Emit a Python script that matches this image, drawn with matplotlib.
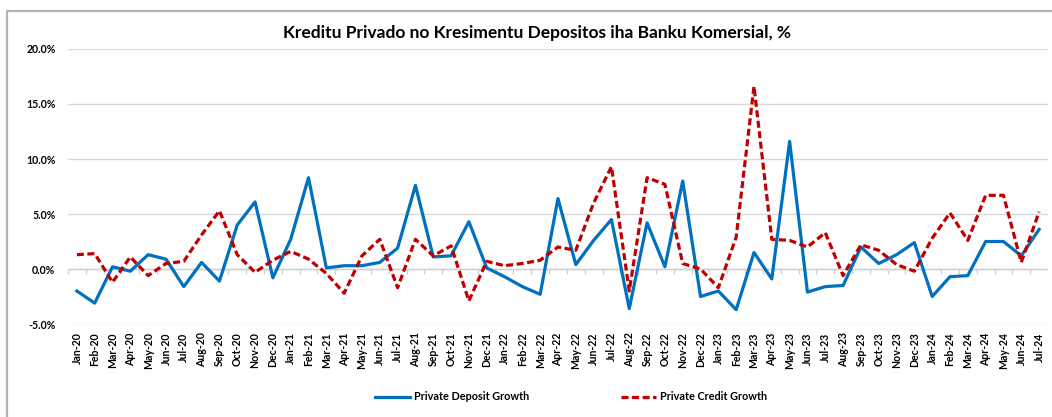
import matplotlib
matplotlib.use("Agg")
import matplotlib.pyplot as plt
import numpy as np
from matplotlib.patches import Rectangle
from matplotlib.ticker import FuncFormatter

months = ["Jan-20", "Feb-20", "Mar-20", "Apr-20", "May-20", "Jun-20", "Jul-20", "Aug-20", "Sep-20", "Oct-20", "Nov-20", "Dec-20",
          "Jan-21", "Feb-21", "Mar-21", "Apr-21", "May-21", "Jun-21", "Jul-21", "Aug-21", "Sep-21", "Oct-21", "Nov-21", "Dec-21",
          "Jan-22", "Feb-22", "Mar-22", "Apr-22", "May-22", "Jun-22", "Jul-22", "Aug-22", "Sep-22", "Oct-22", "Nov-22", "Dec-22",
          "Jan-23", "Feb-23", "Mar-23", "Apr-23", "May-23", "Jun-23", "Jul-23", "Aug-23", "Sep-23", "Oct-23", "Nov-23", "Dec-23",
          "Jan-24", "Feb-24", "Mar-24", "Apr-24", "May-24", "Jun-24", "Jul-24"]

deposit_growth = [-2.0, -3.1, 0.2, -0.2, 1.3, 0.9, -1.6, 0.6, -1.1, 4.0, 6.1, -0.8,
                  2.7, 8.3, 0.1, 0.3, 0.3, 0.6, 1.9, 7.6, 1.1, 1.2, 4.3, 0.1,
                  -0.7, -1.6, -2.3, 6.4, 0.4, 2.6, 4.5, -3.6, 4.2, 0.2, 8.0, -2.5,
                  -2.0, -3.7, 1.5, -0.9, 11.6, -2.1, -1.6, -1.5, 2.0, 0.5, 1.3, 2.4,
                  -2.5, -0.7, -0.6, 2.5, 2.5, 1.2, 3.6]

credit_growth = [1.3, 1.4, -1.2, 1.1, -0.6, 0.5, 0.7, 3.1, 5.3, 1.3, -0.3, 0.8,
                 1.6, 0.9, -0.4, -2.2, 1.2, 2.7, -1.7, 2.7, 1.2, 2.1, -2.9, 0.7,
                 0.3, 0.5, 0.8, 2.0, 1.7, 6.0, 9.3, -2.0, 8.3, 7.7, 0.5, 0.0,
                 -1.7, 2.9, 16.6, 2.7, 2.6, 2.0, 3.3, -0.6, 2.2, 1.7, 0.4, -0.2,
                 2.8, 5.1, 2.6, 6.7, 6.7, 0.6, 5.2]

font = "Lato"
x = np.arange(len(months))

fig = plt.figure(figsize=(10.52, 4.17), dpi=100)
ax = fig.add_axes([0.0646, 0.223, 0.9316, 0.6595])

# outer chart border
fig.patches.append(Rectangle((7 / 1052, -0.1), 1.2, 1 - 11 / 417 + 0.1, transform=fig.transFigure,
                             fill=False, edgecolor="#b3b3b3", linewidth=1.6))

ax.plot(x, deposit_growth, color="#0070c0", linewidth=2.3, label="Private Deposit Growth", zorder=3)
ax.plot(x, credit_growth, color="#c00000", linewidth=2.3, linestyle=(0, (2.2, 1.1)),
        label="Private Credit Growth", zorder=4)

ax.set_xlim(-0.5, len(months) - 0.5)
ax.set_ylim(-5, 20)
ax.set_yticks([-5, 0, 5, 10, 15, 20])
ax.yaxis.set_major_formatter(FuncFormatter(lambda v, p: f"{v:.1f}%"))
ax.grid(axis="y", color="#d9d9d9", linewidth=1)
ax.set_axisbelow(True)

# zero line with category tick marks
ax.axhline(0, color="#d0d0d0", linewidth=1, zorder=1)
ax.vlines(np.arange(-0.5, len(months), 1), -0.45, 0, color="#d0d0d0", linewidth=1, zorder=1)

ax.set_xticks(x)
ax.set_xticklabels(months, rotation=90)
for s in ax.spines.values():
    s.set_visible(False)
ax.tick_params(axis="both", length=0, labelsize=7.6)
ax.tick_params(axis="x", pad=6)
ax.tick_params(axis="y", pad=9)
for lbl in ax.get_xticklabels() + ax.get_yticklabels():
    lbl.set_fontfamily(font)
    lbl.set_fontweight("bold")

fig.text(0.51, 0.922, "Kreditu Privado no Kresimentu Depositos iha Banku Komersial, %",
         ha="center", va="center", fontsize=12.5, fontweight="bold", family=font)

leg = fig.legend(loc="center", bbox_to_anchor=(0.543, 0.048), ncol=2, frameon=False,
                 prop={"family": font, "weight": "bold", "size": 7.8}, columnspacing=8.5,
                 handlelength=3.2, handletextpad=0.4)

fig.savefig("out.png", dpi=100)
